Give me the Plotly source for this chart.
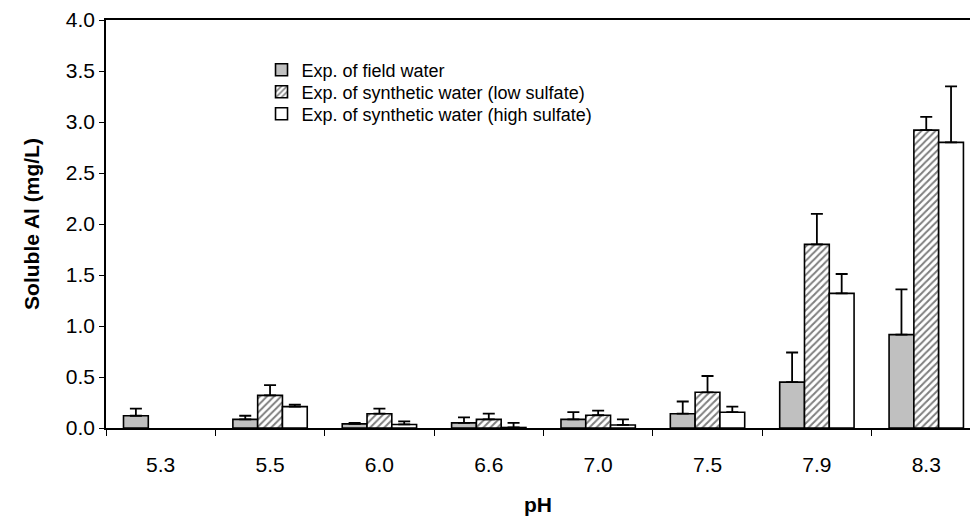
import plotly.graph_objects as go

categories = ["5.3", "5.5", "6.0", "6.6", "7.0", "7.5", "7.9", "8.3"]

field_vals = [0.12, 0.085, 0.04, 0.05, 0.085, 0.14, 0.45, 0.915]
field_err = [0.07, 0.035, 0.01, 0.055, 0.07, 0.12, 0.29, 0.445]

low_vals = [None, 0.32, 0.14, 0.085, 0.125, 0.35, 1.80, 2.92]
low_err = [0, 0.10, 0.05, 0.055, 0.045, 0.16, 0.30, 0.13]

high_vals = [None, 0.21, 0.035, 0.005, 0.03, 0.155, 1.32, 2.80]
high_err = [0, 0.02, 0.03, 0.045, 0.055, 0.055, 0.19, 0.55]

series_names = [
    "Exp. of field water",
    "Exp. of synthetic water (low sulfate)",
    "Exp. of synthetic water (high sulfate)",
]

FONT = "Arial, Liberation Sans, sans-serif"

def err(arr):
    return dict(type="data", symmetric=False, array=arr,
                arrayminus=[0] * len(arr), color="black",
                thickness=1.8, width=6)

fig = go.Figure()
fig.add_trace(go.Bar(
    x=categories, y=field_vals, name=series_names[0], legend="legend",
    marker=dict(color="#c0c0c0", line=dict(color="black", width=1.6)),
    error_y=err(field_err),
))
fig.add_trace(go.Bar(
    x=categories, y=low_vals, name=series_names[1], legend="legend2",
    marker=dict(color="white", line=dict(color="black", width=1.6),
                pattern=dict(shape="/", fgcolor="black", bgcolor="white",
                             size=5, solidity=0.4)),
    error_y=err(low_err),
))
fig.add_trace(go.Bar(
    x=categories, y=high_vals, name=series_names[2], legend="legend3",
    marker=dict(color="white", line=dict(color="black", width=1.6)),
    error_y=err(high_err),
))

def leg(y):
    return dict(x=0.18, y=y, xanchor="left", yanchor="middle",
                bgcolor="rgba(0,0,0,0)", font=dict(size=18, family=FONT),
                itemwidth=30)

fig.update_layout(
    width=970, height=520,
    margin=dict(l=106, r=0, t=20, b=92),
    paper_bgcolor="white", plot_bgcolor="white",
    font=dict(family=FONT, size=18, color="black"),
    barmode="group", bargap=0.32, bargroupgap=0,
    showlegend=True,
    legend=leg(0.8775), legend2=leg(0.8235), legend3=leg(0.7696),
    xaxis=dict(
        type="category", range=[-0.5, 7.4],
        showline=True, linecolor="black", linewidth=2, mirror=True,
        ticks="outside", tickson="boundaries", ticklen=6, tickcolor="black",
        tickwidth=1, ticklabelstandoff=17,
        tickfont=dict(size=21, family=FONT),
        title=dict(text="<b>pH</b>", font=dict(size=21, family=FONT), standoff=22),
        showgrid=False, zeroline=False,
    ),
    yaxis=dict(
        range=[0, 4], dtick=0.5, tickformat=".1f",
        showline=True, linecolor="black", linewidth=1.5,
        ticks="outside", ticklen=5, tickcolor="black", tickwidth=1,
        tickfont=dict(size=21, family=FONT),
        title=dict(text="<b>Soluble Al (mg/L)</b>", font=dict(size=21, family=FONT), standoff=20),
        showgrid=False, zeroline=False,
    ),
)

fig.write_html("out.html", config={"displayModeBar": False},
               post_script="document.body.style.margin='0';document.body.style.overflow='hidden';")
